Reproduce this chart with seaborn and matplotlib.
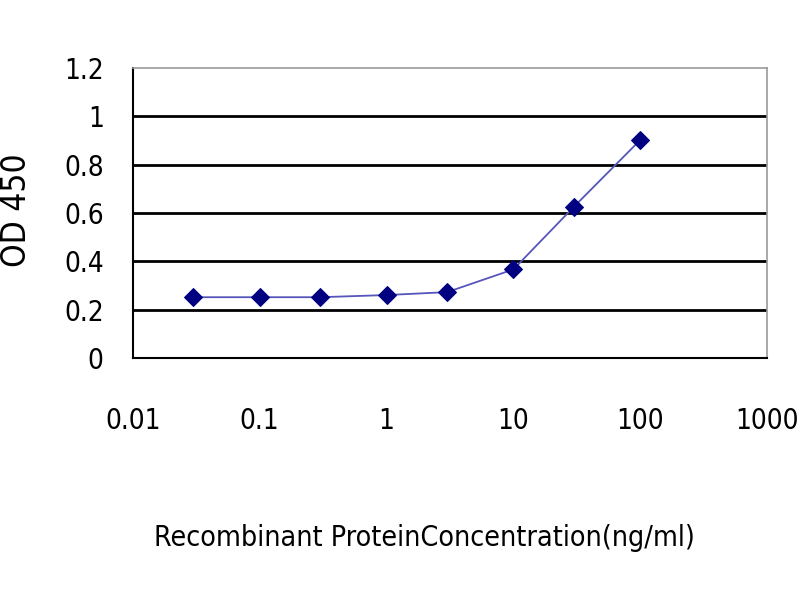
import matplotlib
matplotlib.use("Agg")
import matplotlib.pyplot as plt
import seaborn as sns
import pandas as pd

# concentration (ng/ml) and OD 450 readings
concentration = [0.03, 0.1, 0.3, 1, 3, 10, 30, 100]
od450 = [0.252, 0.252, 0.252, 0.261, 0.273, 0.367, 0.626, 0.902]
y_ticks = [0, 0.2, 0.4, 0.6, 0.8, 1, 1.2]
y_labels = ["0", "0.2", "0.4", "0.6", "0.8", "1", "1.2"]
x_ticks = [0.01, 0.1, 1, 10, 100, 1000]
x_labels = ["0.01", "0.1", "1", "10", "100", "1000"]

df = pd.DataFrame({"conc": concentration, "od": od450})

sns.set_style("white")
plt.rcParams['font.family'] = ['DejaVu Sans']
plt.rcParams['font.stretch'] = 'condensed'
plt.rcParams['text.color'] = 'black'
plt.rcParams['axes.labelcolor'] = 'black'

fig = plt.figure(figsize=(8, 6), dpi=100)
ax = fig.add_axes([0.166, 0.403, 0.793, 0.484])

ax.set_xscale("log")
sns.lineplot(data=df, x="conc", y="od", ax=ax, color="#5555bb", lw=1.3,
             marker="D", markersize=9, markerfacecolor="#000080",
             markeredgecolor="#000080", zorder=3)

for v in y_ticks[1:-1]:
    ax.axhline(v, color="black", lw=2, zorder=1)

ax.set_xlim(0.01, 1000)
ax.set_ylim(0, 1.2)
ax.set_xticks(x_ticks)
ax.set_xticklabels(x_labels)
ax.minorticks_off()
ax.set_yticks(y_ticks)
ax.set_yticklabels(y_labels)
ax.tick_params(axis="both", labelsize=20, colors="black", length=5,
               width=1, direction="out")
ax.tick_params(axis="x", pad=30)
ax.tick_params(axis="y", pad=16)

for side in ["left", "bottom"]:
    ax.spines[side].set_color("black")
    ax.spines[side].set_linewidth(1.5)
for side in ["top", "right"]:
    ax.spines[side].set_color("#999999")
    ax.spines[side].set_linewidth(1.2)

ax.set_xlabel("Recombinant ProteinConcentration(ng/ml)", fontsize=20.5)
ax.xaxis.set_label_coords(0.46, -0.57)
ax.set_ylabel("OD 450", fontsize=24)
ax.yaxis.set_label_coords(-0.158, 0.51)

fig.savefig("out.png", dpi=100)
